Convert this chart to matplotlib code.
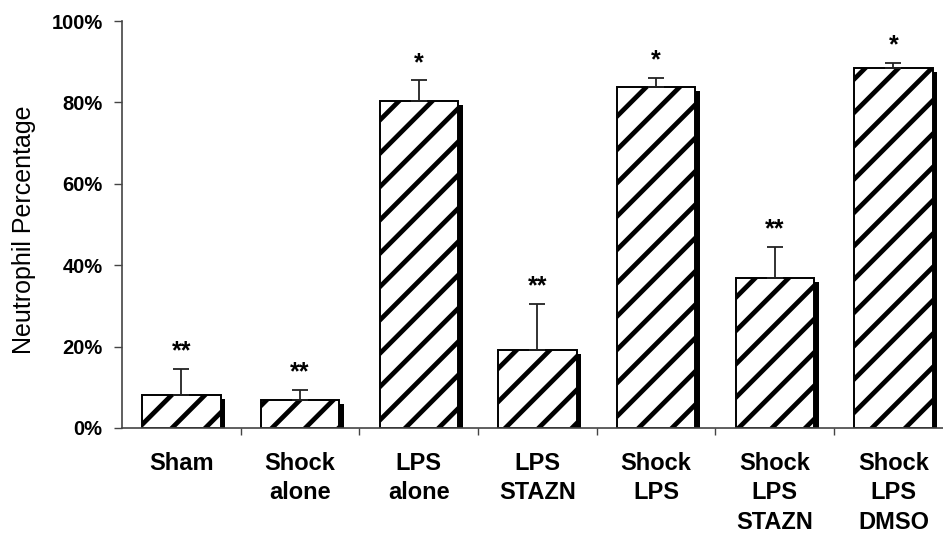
import numpy as np
import matplotlib.pyplot as plt

plt.rcParams['font.family'] = ['Liberation Sans', 'DejaVu Sans']
plt.rcParams['hatch.linewidth'] = 3.4

groups = ['Sham', 'Shock\nalone', 'LPS\nalone', 'LPS\nSTAZN', 'Shock\nLPS',
          'Shock\nLPS\nSTAZN', 'Shock\nLPS\nDMSO']
means = [8.2, 6.9, 80.3, 19.1, 83.8, 36.8, 88.4]
errs = [6.3, 2.4, 5.1, 11.4, 2.2, 7.6, 1.3]
marks = ['**', '**', '*', '**', '*', '**', '*']

x = np.arange(len(groups))
bw = 0.66

fig = plt.figure(figsize=(9.43, 5.33), dpi=100)
ax = fig.add_axes([0.1294, 0.197, 0.881, 0.7636])

# drop shadow behind each bar
ax.bar(x + 0.04, np.array(means) - 1.0, width=bw, color='black', zorder=1)
ax.bar(x, means, width=bw, facecolor='white', edgecolor='black',
       hatch='/', linewidth=1.4, zorder=2)
ax.errorbar(x, means, yerr=[np.zeros(len(errs)), errs], fmt='none',
            ecolor='#222222', elinewidth=1.3, capsize=6, capthick=1.3, zorder=3)

for xi, m, e, s in zip(x, means, errs, marks):
    ax.annotate(s, (xi, m + e), xytext=(0, 4), textcoords='offset points',
                ha='center', va='bottom', fontsize=18, fontweight='bold')

ax.set_xlim(-0.5, len(groups) - 0.5)
ax.set_ylim(0, 100)
ax.set_yticks(np.arange(0, 101, 20))
ax.set_yticklabels([f'{v}%' for v in range(0, 101, 20)])
ax.set_xticks(x)
ax.set_xticklabels(groups, linespacing=1.38)
ax.set_xticks(np.arange(0.5, len(groups) - 0.5, 1), minor=True)

for side in ['top', 'right']:
    ax.spines[side].set_visible(False)
for side in ['left', 'bottom']:
    ax.spines[side].set_color('#444444')
    ax.spines[side].set_linewidth(1.2)

ax.tick_params(axis='y', direction='out', length=6, width=1.0, color='#444444',
               pad=8, labelsize=14.5)
ax.tick_params(axis='x', which='major', length=0, pad=17, labelsize=17)
ax.tick_params(axis='x', which='minor', direction='out', length=5, width=1.0,
               color='#444444')
for lbl in ax.get_yticklabels() + ax.get_xticklabels():
    lbl.set_fontweight('bold')

fig.text(24 / 943, 1 - 230 / 533, 'Neutrophil Percentage', rotation=90,
         ha='center', va='center', fontsize=18)

fig.savefig('out.png', dpi=100)
